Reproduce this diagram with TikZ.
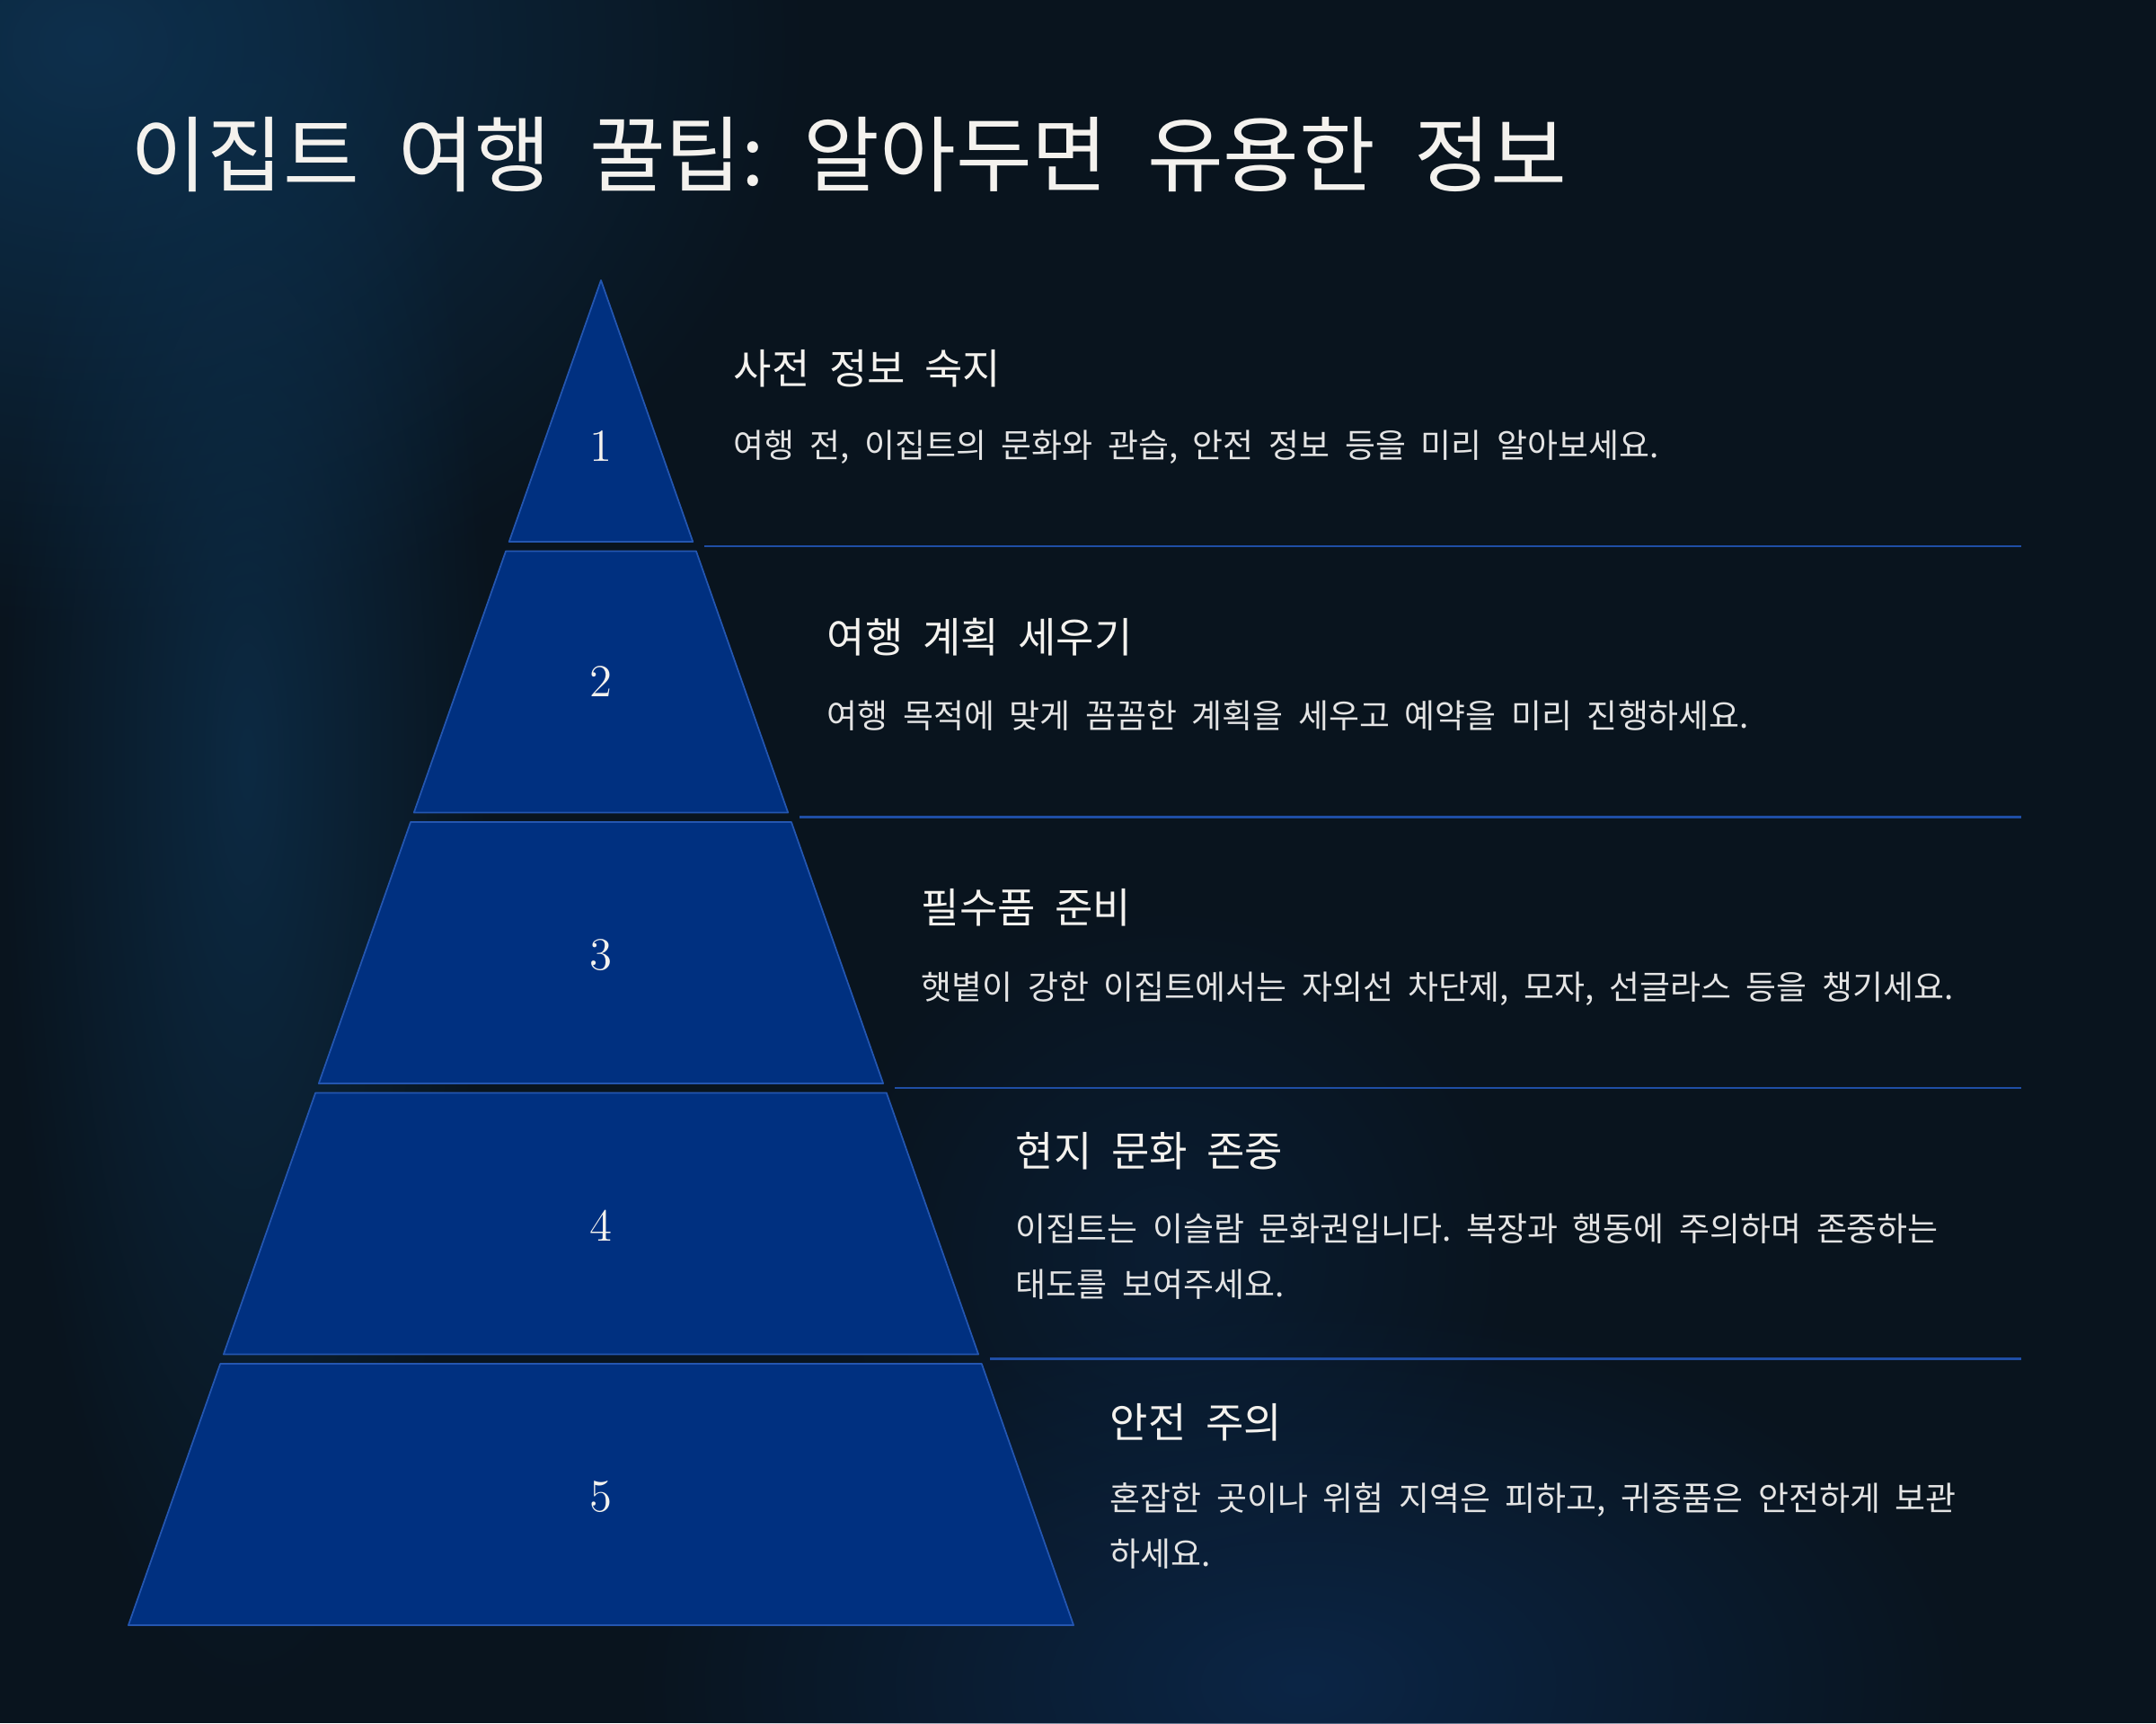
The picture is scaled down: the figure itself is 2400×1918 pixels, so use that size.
\documentclass[tikz,border=0pt]{standalone}
\usepackage{fontspec}
\usepackage{tikz}
\usetikzlibrary{fadings}
\newfontfamily\krfont[WordSpace=2.1]{Noto Sans CJK KR}
\frenchspacing
\definecolor{BgDark}{HTML}{09141E}
\definecolor{BgGlow}{HTML}{0E3352}
\definecolor{BgGlowB}{HTML}{0C2A50}
\definecolor{TierFill}{HTML}{003080}
\definecolor{TierEdge}{HTML}{2456B0}
\definecolor{RuleBlue}{HTML}{1F4EA5}
\definecolor{TextWhite}{HTML}{F4F2EE}
\definecolor{TextGrey}{HTML}{E4E4E4}
\tikzfading[name=glowfade, inner color=transparent!0, outer color=transparent!100]

\begin{document}
\begin{tikzpicture}[x=0.01cm, y=-0.01cm,
  tier/.style={fill=TierFill, draw=TierEdge, line width=0.5pt, line join=round},
  rule/.style={draw=RuleBlue, line width=0.6pt},
  num/.style={text=TextWhite, inner sep=0pt, font=\fontsize{14.5}{14.5}\selectfont},
  head/.style={anchor=base west, inner sep=0pt, text=TextWhite, font=\krfont\fontsize{13.1}{16}\selectfont},
  desc/.style={anchor=base west, inner sep=0pt, text=TextGrey, text width=13cm, align=left,
    font=\krfont\fontsize{10.5}{17.9}\selectfont, execute at begin node={\spaceskip=0.45em\relax}}]
  \useasboundingbox (0,0) rectangle (2400,1918);
  \fill[BgDark] (0,0) rectangle (2400,1918);
  \fill[BgGlow, path fading=glowfade, fit fading=true, opacity=0.9] (-700,-600) rectangle (900,700);
  \fill[BgGlow, path fading=glowfade, fit fading=true, opacity=0.7] (0,-200) rectangle (550,1900);
  \fill[BgGlowB, path fading=glowfade, fit fading=true, opacity=0.8] (700,1450) rectangle (2200,2300);
  \fill[BgGlowB, path fading=glowfade, fit fading=true, opacity=0.4] (900,1000) rectangle (1700,1800);

  \foreach \i in {1,...,5} {
    \pgfmathsetmacro{\yt}{312+(\i-1)*301.5}
    \pgfmathsetmacro{\yb}{\yt+291}
    \pgfmathsetmacro{\ht}{0.3514*(\yt-312)}
    \pgfmathsetmacro{\hb}{0.3514*(\yb-312)}
    \draw[tier] (669-\ht,\yt) -- (669+\ht,\yt) -- (669+\hb,\yb) -- (669-\hb,\yb) -- cycle;
  }
  \foreach \i in {1,...,4} {
    \pgfmathsetmacro{\ys}{312+\i*301.5-5.5}
    \pgfmathsetmacro{\xs}{669+0.3514*(\ys-312)+11}
    \draw[rule] (\xs,\ys) -- (2250,\ys);
  }

  \node[num] (num1) at (669,497) {1};
  \node[num] (num2) at (669,759) {2};
  \node[num] (num3) at (669,1063) {3};
  \node[num] (num4) at (669,1364) {4};
  \node[num] (num5) at (669,1666) {5};

  \node[anchor=base west, inner sep=0pt, text=TextWhite, font=\krfont\fontsize{26.2}{30}\selectfont]
    (title) at (145,206) {이집트 여행 꿀팁: 알아두면 유용한 정보};

  \node[head] (head1) at (816,427) {사전 정보 숙지};
  \node[desc] (desc1) at (816,509) {여행 전, 이집트의 문화와 관습, 안전 정보 등을 미리 알아보세요.};
  \node[head] (head2) at (920,726) {여행 계획 세우기};
  \node[desc] (desc2) at (920,810) {여행 목적에 맞게 꼼꼼한 계획을 세우고 예약을 미리 진행하세요.};
  \node[head] (head3) at (1025,1027) {필수품 준비};
  \node[desc] (desc3) at (1025,1112) {햇볕이 강한 이집트에서는 자외선 차단제, 모자, 선글라스 등을 챙기세요.};
  \node[head] (head4) at (1130,1298) {현지 문화 존중};
  \node[desc] (desc4) at (1130,1381) {이집트는 이슬람 문화권입니다. 복장과 행동에 주의하며 존중하는\\태도를 보여주세요.};
  \node[head] (head5) at (1235,1600) {안전 주의};
  \node[desc] (desc5) at (1235,1681) {혼잡한 곳이나 위험 지역은 피하고, 귀중품은 안전하게 보관\\하세요.};
\end{tikzpicture}
\end{document}
